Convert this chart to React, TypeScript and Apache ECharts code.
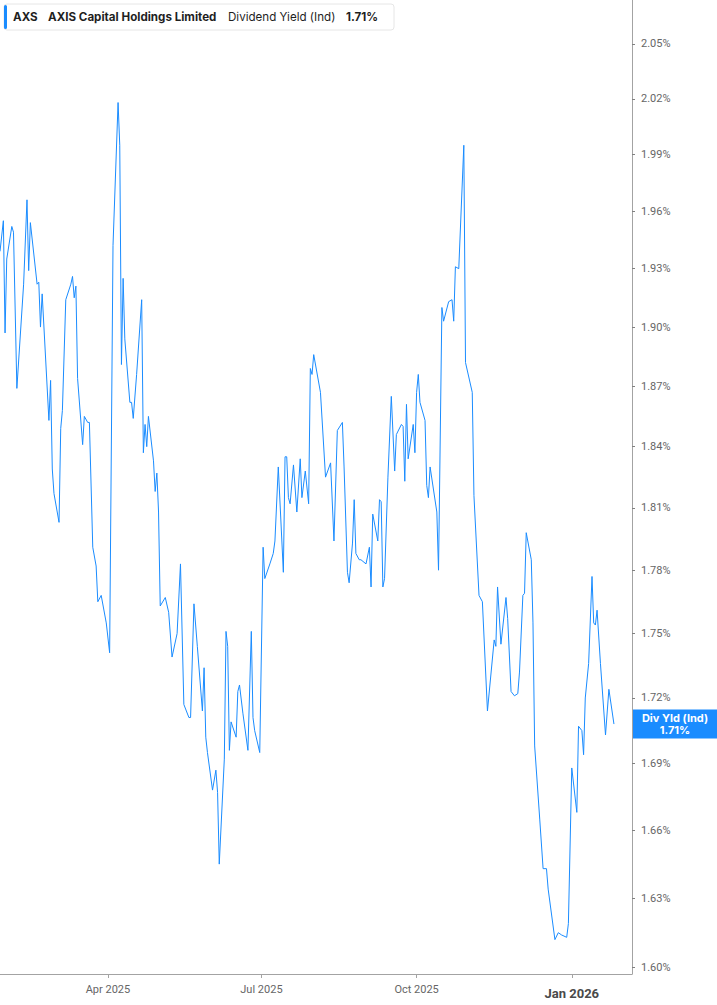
import * as echarts from "echarts";
import { useEffect, useRef } from "react";

// trading days (only the turning points of the line)
const dates = [
  "2025-01-27", "2025-01-29", "2025-01-30", "2025-01-31", "2025-02-03", "2025-02-04", "2025-02-06", "2025-02-10", "2025-02-12", "2025-02-13",
  "2025-02-14", "2025-02-18", "2025-02-19", "2025-02-20", "2025-02-21", "2025-02-25", "2025-02-26", "2025-02-27", "2025-02-28", "2025-03-03",
  "2025-03-04", "2025-03-05", "2025-03-07", "2025-03-10", "2025-03-11", "2025-03-12", "2025-03-13", "2025-03-14", "2025-03-17", "2025-03-18",
  "2025-03-20", "2025-03-21", "2025-03-23", "2025-03-25", "2025-03-26", "2025-03-28", "2025-03-31", "2025-04-02", "2025-04-04", "2025-04-07",
  "2025-04-08", "2025-04-09", "2025-04-10", "2025-04-11", "2025-04-14", "2025-04-15", "2025-04-16", "2025-04-18", "2025-04-21", "2025-04-22",
  "2025-04-23", "2025-04-24", "2025-04-25", "2025-04-28", "2025-04-29", "2025-04-30", "2025-05-01", "2025-05-02", "2025-05-05", "2025-05-07",
  "2025-05-09", "2025-05-12", "2025-05-14", "2025-05-16", "2025-05-19", "2025-05-20", "2025-05-22", "2025-05-24", "2025-05-27", "2025-05-28",
  "2025-05-29", "2025-05-30", "2025-06-02", "2025-06-04", "2025-06-05", "2025-06-06", "2025-06-09", "2025-06-10", "2025-06-11", "2025-06-12",
  "2025-06-13", "2025-06-16", "2025-06-17", "2025-06-18", "2025-06-20", "2025-06-23", "2025-06-25", "2025-06-26", "2025-06-27", "2025-06-30",
  "2025-07-02", "2025-07-03", "2025-07-06", "2025-07-08", "2025-07-09", "2025-07-11", "2025-07-14", "2025-07-15", "2025-07-16", "2025-07-17",
  "2025-07-18", "2025-07-20", "2025-07-22", "2025-07-24", "2025-07-25", "2025-07-27", "2025-07-29", "2025-07-30", "2025-07-31", "2025-08-01",
  "2025-08-05", "2025-08-08", "2025-08-11", "2025-08-13", "2025-08-15", "2025-08-18", "2025-08-19", "2025-08-21", "2025-08-22", "2025-08-24",
  "2025-08-25", "2025-08-26", "2025-08-28", "2025-08-29", "2025-09-01", "2025-09-03", "2025-09-04", "2025-09-05", "2025-09-08", "2025-09-09",
  "2025-09-10", "2025-09-11", "2025-09-12", "2025-09-14", "2025-09-16", "2025-09-18", "2025-09-19", "2025-09-22", "2025-09-23", "2025-09-24",
  "2025-09-25", "2025-09-26", "2025-09-29", "2025-09-30", "2025-10-01", "2025-10-02", "2025-10-03", "2025-10-06", "2025-10-07", "2025-10-08",
  "2025-10-09", "2025-10-13", "2025-10-14", "2025-10-16", "2025-10-17", "2025-10-20", "2025-10-22", "2025-10-23", "2025-10-24", "2025-10-26",
  "2025-10-29", "2025-10-30", "2025-11-03", "2025-11-04", "2025-11-07", "2025-11-09", "2025-11-12", "2025-11-16", "2025-11-17", "2025-11-18",
  "2025-11-20", "2025-11-23", "2025-11-24", "2025-11-26", "2025-11-28", "2025-11-30", "2025-12-01", "2025-12-03", "2025-12-04", "2025-12-05",
  "2025-12-08", "2025-12-09", "2025-12-10", "2025-12-13", "2025-12-15", "2025-12-17", "2025-12-18", "2025-12-22", "2025-12-24", "2025-12-26",
  "2025-12-29", "2025-12-30", "2026-01-01", "2026-01-04", "2026-01-05", "2026-01-07", "2026-01-08", "2026-01-09", "2026-01-11", "2026-01-13",
  "2026-01-14", "2026-01-15", "2026-01-16", "2026-01-18", "2026-01-21", "2026-01-23", "2026-01-26",
];

// dividend yield (ind), %
const yields = [
  1.939, 1.955, 1.897, 1.935, 1.952, 1.949, 1.869, 1.922, 1.966, 1.929,
  1.954, 1.922, 1.923, 1.9, 1.917, 1.853, 1.873, 1.829, 1.817, 1.803,
  1.849, 1.858, 1.914, 1.922, 1.926, 1.915, 1.921, 1.874, 1.841, 1.855,
  1.852, 1.852, 1.791, 1.782, 1.765, 1.768, 1.755, 1.741, 1.942, 2.018,
  1.995, 1.881, 1.925, 1.894, 1.862, 1.862, 1.854, 1.876, 1.914, 1.837,
  1.851, 1.84, 1.855, 1.833, 1.818, 1.827, 1.808, 1.763, 1.767, 1.76,
  1.739, 1.75, 1.783, 1.717, 1.711, 1.711, 1.764, 1.744, 1.714, 1.734,
  1.702, 1.695, 1.678, 1.687, 1.677, 1.645, 1.692, 1.751, 1.744, 1.696,
  1.709, 1.702, 1.723, 1.726, 1.713, 1.696, 1.751, 1.711, 1.705, 1.695,
  1.791, 1.776, 1.783, 1.788, 1.794, 1.83, 1.779, 1.835, 1.835, 1.815,
  1.812, 1.831, 1.808, 1.834, 1.815, 1.828, 1.812, 1.879, 1.876, 1.886,
  1.867, 1.825, 1.832, 1.794, 1.848, 1.852, 1.83, 1.779, 1.774, 1.793,
  1.814, 1.788, 1.785, 1.785, 1.783, 1.791, 1.772, 1.807, 1.794, 1.814,
  1.813, 1.772, 1.776, 1.825, 1.865, 1.828, 1.846, 1.851, 1.85, 1.823,
  1.861, 1.834, 1.851, 1.837, 1.867, 1.876, 1.862, 1.853, 1.821, 1.815,
  1.83, 1.808, 1.78, 1.91, 1.903, 1.913, 1.914, 1.903, 1.931, 1.93,
  1.995, 1.882, 1.867, 1.816, 1.768, 1.765, 1.714, 1.747, 1.744, 1.772,
  1.745, 1.767, 1.757, 1.723, 1.721, 1.722, 1.732, 1.768, 1.769, 1.798,
  1.785, 1.755, 1.698, 1.665, 1.643, 1.643, 1.634, 1.612, 1.615, 1.614,
  1.613, 1.619, 1.688, 1.668, 1.707, 1.705, 1.694, 1.72, 1.736, 1.777,
  1.755, 1.754, 1.761, 1.736, 1.703, 1.724, 1.708,
];

const yTicks = [1.6, 1.63, 1.66, 1.69, 1.72, 1.75, 1.78, 1.81, 1.84, 1.87, 1.9, 1.93, 1.96, 1.99, 2.02, 2.05];
const xTicks = ["2025-04-01", "2025-07-01", "2025-10-01", "2026-01-01"];
const xTickLabels = ["Apr 2025", "Jul 2025", "Oct 2025", "Jan 2026"];
const xRange = ["2025-01-27T00:00:00", "2026-02-05T17:00:00"];
const yRange = [1.5972, 2.0743];

const lineColor = "#1a8cff";
const axisColor = "#a3a3a3";
const labelColor = "#666666";
const axisFont = "Roboto, 'Noto Sans', sans-serif";
const legendFont = "Inter, 'Noto Sans', sans-serif";

const ts = (d: string) => new Date(d.length > 10 ? d : `${d}T00:00:00`).getTime();

export default function App() {
  const ref = useRef<HTMLDivElement | null>(null);

  useEffect(() => {
    if (!ref.current) return;
    const chart = echarts.init(ref.current, null, { renderer: "svg" });
    const tickTimes = xTicks.map(ts);
    const yTickLogs = yTicks.map((v) => Math.log(v));
    const last = yields[yields.length - 1];

    chart.setOption({
      animation: false,
      backgroundColor: "#ffffff",
      textStyle: { fontFamily: axisFont },
      grid: { left: 0, right: 85, top: 0, bottom: 31 },
      xAxis: {
        type: "value",
        min: ts(xRange[0]),
        max: ts(xRange[1]),
        axisLine: { lineStyle: { color: axisColor, width: 1 } },
        axisTick: { show: true, customValues: tickTimes, length: 4, lineStyle: { color: axisColor } },
        axisLabel: {
          customValues: tickTimes,
          margin: 10,
          color: labelColor,
          fontSize: 11,
          formatter: (value: number) => {
            const i = tickTimes.findIndex((t) => Math.abs(t - value) < 1000);
            const label = xTickLabels[i] ?? "";
            return i === xTickLabels.length - 1 ? `{b|${label}}` : label;
          },
          rich: { b: { fontWeight: "bold", fontSize: 13, color: "#4a4a4a", fontFamily: axisFont, padding: [3, 0, 0, 0] } },
        },
        splitLine: { show: false },
      },
      yAxis: {
        type: "value",
        position: "right",
        min: Math.log(yRange[0]),
        max: Math.log(yRange[1]),
        axisLine: { show: true, lineStyle: { color: axisColor, width: 1 } },
        axisTick: { show: true, customValues: yTickLogs, length: 3, lineStyle: { color: "#808080" } },
        axisLabel: {
          customValues: yTickLogs,
          margin: 9,
          color: labelColor,
          fontSize: 11,
          formatter: (value: number) => `${Math.exp(value).toFixed(2)}%`,
        },
        splitLine: { show: false },
      },
      series: [
        {
          type: "line",
          data: dates.map((d, i) => [ts(d), Math.log(yields[i])]),
          showSymbol: false,
          lineStyle: { width: 1, color: lineColor },
          itemStyle: { color: lineColor },
        },
      ],
    });

    const py = chart.convertToPixel({ yAxisIndex: 0 }, Math.log(last)) as number;
    const legendText = (text: string, x: number, bold: boolean) => ({
      type: "text",
      x,
      y: 17,
      style: { text, fill: "#1f1f1f", fontFamily: legendFont, fontSize: 11.6, fontWeight: bold ? "bold" : "normal", verticalAlign: "middle" },
    });

    chart.setOption({
      graphic: [
        { type: "rect", shape: { x: 4, y: 4, width: 390, height: 26, r: 3 }, style: { fill: "#ffffff", stroke: "#e6e6e6", lineWidth: 1 } },
        { type: "rect", shape: { x: 4, y: 5, width: 3, height: 24, r: 1.5 }, style: { fill: lineColor } },
        legendText("AXS", 13, true),
        legendText("AXIS Capital Holdings Limited", 48, true),
        legendText("Dividend Yield (Ind)", 228, false),
        legendText(`${last.toFixed(2)}%`, 346, true),
        { type: "rect", shape: { x: 633, y: py - 14.5, width: 84, height: 29 }, style: { fill: lineColor } },
        {
          type: "text",
          x: 675,
          y: py - 6,
          style: { text: "Div Yld (Ind)", fill: "#ffffff", fontFamily: legendFont, fontSize: 11, fontWeight: "bold", align: "center", verticalAlign: "middle" },
        },
        {
          type: "text",
          x: 675,
          y: py + 6,
          style: { text: `${last.toFixed(2)}%`, fill: "#ffffff", fontFamily: legendFont, fontSize: 11, fontWeight: "bold", align: "center", verticalAlign: "middle" },
        },
      ],
    });

    return () => chart.dispose();
  }, []);

  return <div ref={ref} style={{ position: "fixed", left: 0, top: 0, width: 717, height: 1005, background: "#fff" }} />;
}
